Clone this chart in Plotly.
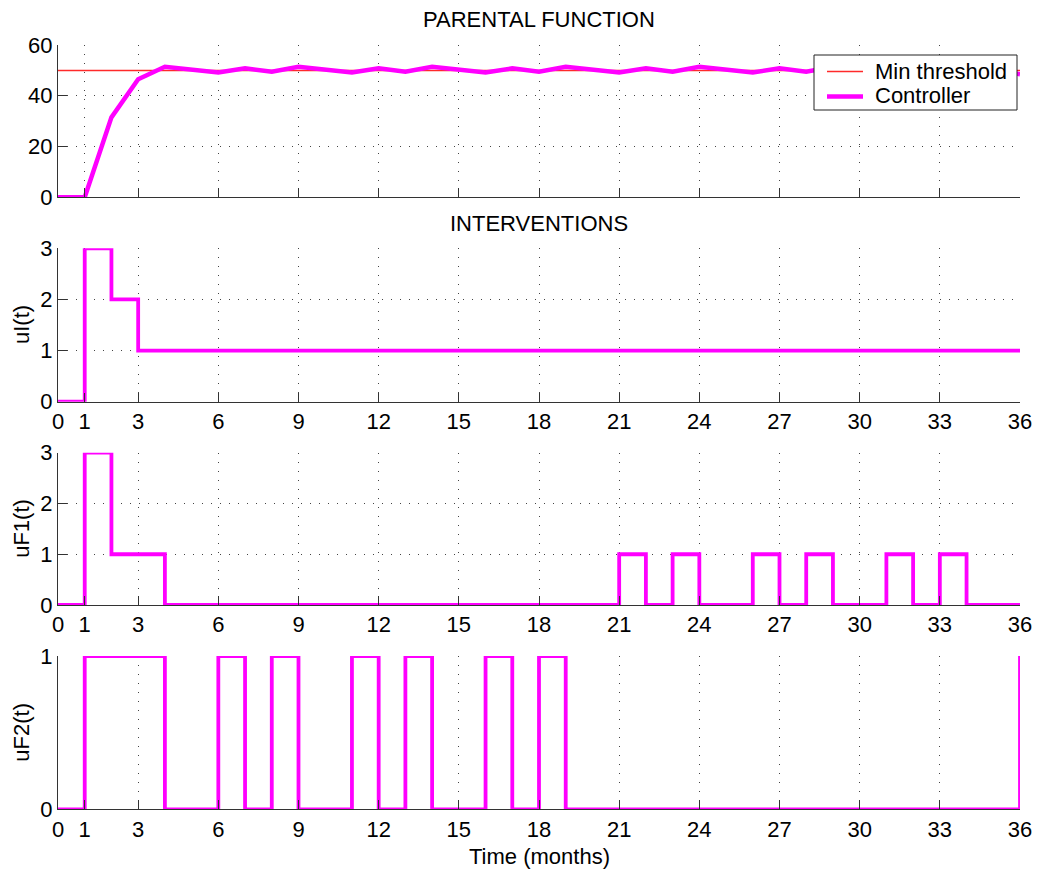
import plotly.graph_objects as go

# ---------------- data ----------------
months = list(range(0, 37))
parental = [0, 0, 31.5, 46.5, 51.4, 50.3, 49.2, 50.8, 49.5, 51.4,
            50.3, 49.2, 50.8, 49.5, 51.4, 50.3, 49.2, 50.8, 49.5, 51.4,
            50.3, 49.2, 50.8, 49.5, 51.4, 50.3, 49.2, 50.8, 49.5, 51.4,
            50.3, 49.2, 50.8, 49.5, 51.4, 50.3, 48.5]
threshold_x = [0, 36]
threshold_y = [50, 50]
uI = [0, 3, 2] + [1] * 34
uF1 = [0, 3, 1, 1] + [0] * 17 + [1, 0, 1, 0, 0, 1, 0, 1, 0, 0, 1, 0, 1, 0, 0, 0]
uF2 = [0, 1, 1, 1, 0, 0, 1, 0, 1, 0, 0, 1, 0, 1, 0, 0, 1, 0, 1] + [0] * 17 + [1]
xtick_vals = [0, 1, 3, 6, 9, 12, 15, 18, 21, 24, 27, 30, 33, 36]
xtick_text = [str(v) for v in xtick_vals]
legend_labels = ["Min threshold", "Controller"]

# page offset: the html body has an 8px margin
OFF = 8
W, H = 1050 - OFF, 870 - OFF
FONT = "Liberation Sans, Arial, sans-serif"
FS = 22
MAG = "#ff00ff"
RED = "#ff2a2a"
GRID = "#444"

def px(x):
    return (x - OFF) / W

def py(y):
    return 1 - (y - OFF) / H

x_dom = [px(58), px(1020)]
panels = [  # (top px, bottom px) in screenshot coordinates
    (45, 197.3),
    (248.3, 401.7),
    (452.7, 605),
    (656, 809.3),
]

fig = go.Figure()

# panel 1
fig.add_trace(go.Scatter(x=threshold_x, y=threshold_y, mode="lines",
                         line=dict(color=RED, width=1.5),
                         name=legend_labels[0], showlegend=False,
                         xaxis="x", yaxis="y"))
fig.add_trace(go.Scatter(x=months, y=parental, mode="lines",
                         line=dict(color=MAG, width=4.5),
                         name=legend_labels[1], showlegend=False,
                         xaxis="x", yaxis="y"))
# panels 2-4
for i, series in enumerate([uI, uF1, uF2], start=2):
    fig.add_trace(go.Scatter(x=months, y=series, mode="lines",
                             line=dict(color=MAG, width=3.8, shape="hv"),
                             showlegend=False,
                             xaxis=f"x{i}", yaxis=f"y{i}"))

common_x = dict(range=[0, 36], tickmode="array", tickvals=xtick_vals,
                ticktext=xtick_text, ticks="inside", ticklen=9,
                tickcolor="#333", tickwidth=1, automargin=False,
                showline=True, linecolor="#333", linewidth=1,
                showgrid=True, gridcolor=GRID, griddash="1px,8px",
                gridwidth=1, zeroline=False, domain=x_dom,
                tickfont=dict(family=FONT, size=FS, color="black"))
common_y = dict(ticks="inside", ticklen=9, tickcolor="#333", tickwidth=1,
                showline=True, linecolor="#333", linewidth=1, automargin=False,
                showgrid=True, gridcolor=GRID, griddash="1px,8px",
                gridwidth=1, zeroline=False,
                tickfont=dict(family=FONT, size=FS, color="black"))

yranges = [[0, 60], [0, 3], [0, 3], [0, 1]]
yticks = [[0, 20, 40, 60], [0, 1, 2, 3], [0, 1, 2, 3], [0, 1]]

layout = {}
for i in range(4):
    suf = "" if i == 0 else str(i + 1)
    top, bot = panels[i]
    xa = dict(common_x)
    xa["anchor"] = "y" + suf
    xa["showticklabels"] = i > 0
    ya = dict(common_y)
    ya.update(range=yranges[i], tickvals=yticks[i], domain=[py(bot), py(top)],
              anchor="x" + suf)
    layout["xaxis" + suf] = xa
    layout["yaxis" + suf] = ya

fig.update_layout(**layout)

xc = (x_dom[0] + x_dom[1]) / 2
annos = [
    dict(text="PARENTAL FUNCTION", x=xc, y=py(20)),
    dict(text="INTERVENTIONS", x=xc, y=py(223)),
    dict(text="Time (months)", x=xc, y=py(856)),
]
for a in annos:
    fig.add_annotation(xref="paper", yref="paper", showarrow=False,
                       xanchor="center", yanchor="middle",
                       font=dict(family=FONT, size=FS, color="black"), **a)

for label, (top, bot) in zip(["uI(t)", "uF1(t)", "uF2(t)"], panels[1:]):
    fig.add_annotation(text=label, xref="paper", yref="paper",
                       x=px(22), y=py((top + bot) / 2), showarrow=False,
                       textangle=-90, xanchor="center", yanchor="middle",
                       font=dict(family=FONT, size=FS, color="black"))

# legend box (drawn manually to match the compact MATLAB legend)
fig.add_shape(type="rect", xref="paper", yref="paper",
              x0=px(814), x1=px(1017), y0=py(110), y1=py(55),
              fillcolor="white", line=dict(color="#222", width=1),
              layer="above")
fig.add_shape(type="line", xref="paper", yref="paper",
              x0=px(827), x1=px(863), y0=py(71.5), y1=py(71.5),
              line=dict(color=RED, width=1.5), layer="above")
fig.add_shape(type="line", xref="paper", yref="paper",
              x0=px(827), x1=px(863), y0=py(96.5), y1=py(96.5),
              line=dict(color=MAG, width=4.5), layer="above")
for lab, yy in zip(legend_labels, [71, 95.5]):
    fig.add_annotation(text=lab, xref="paper", yref="paper",
                       x=px(873), y=py(yy), showarrow=False,
                       xanchor="left", yanchor="middle",
                       font=dict(family=FONT, size=FS, color="black"))

fig.update_layout(
    width=W, height=H,
    margin=dict(l=0, r=0, t=0, b=0, pad=0, autoexpand=False),
    paper_bgcolor="white", plot_bgcolor="white",
    font=dict(family=FONT, size=FS, color="black"),
    showlegend=False,
)

fig.write_html("out.html")
